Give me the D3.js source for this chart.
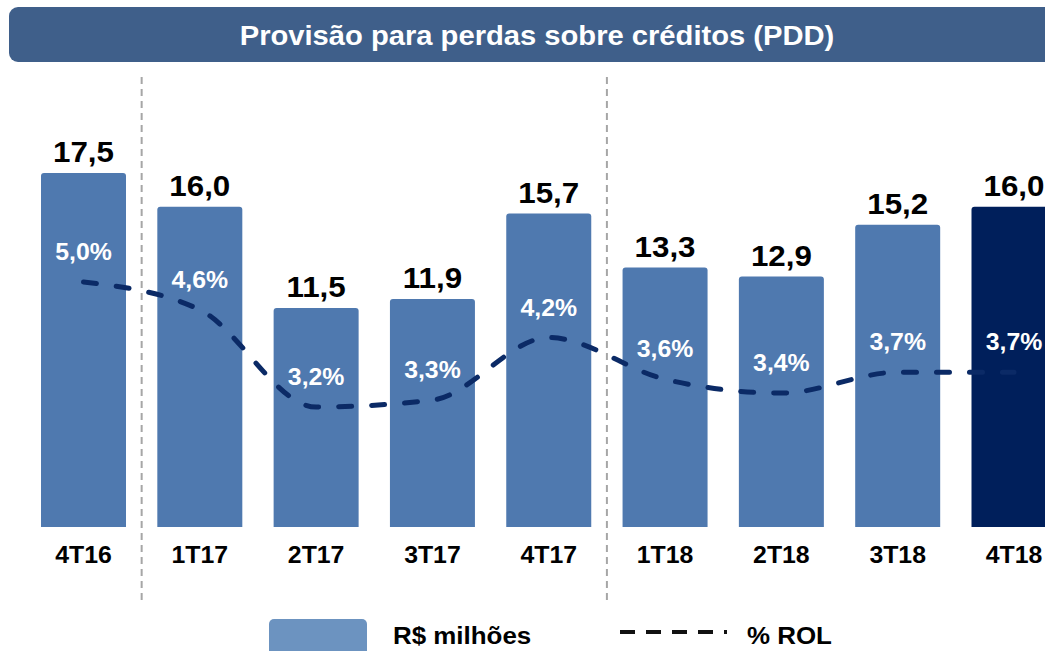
<!DOCTYPE html>
<html>
<head>
<meta charset="utf-8">
<script src="https://cdn.jsdelivr.net/npm/d3@7"></script>
<style>
  html, body { margin: 0; padding: 0; background: #fff; }
  svg { display: block; }
  text { font-family: "Liberation Sans", Arial, sans-serif; font-weight: bold; }
</style>
</head>
<body>
<svg id="chart" width="1045" height="651"></svg>
<script>
const title = "Provisão para perdas sobre créditos (PDD)";
const categories = ["4T16", "1T17", "2T17", "3T17", "4T17", "1T18", "2T18", "3T18", "4T18"];
const pddValues = [17.5, 16.0, 11.5, 11.9, 15.7, 13.3, 12.9, 15.2, 16.0];
const rolValues = [5.0, 4.6, 3.2, 3.3, 4.2, 3.6, 3.4, 3.7, 3.7];
const highlighted = ["4T18"];
const separatorsAfter = ["4T16", "4T17"];
const legendLabels = ["R$ milhões", "% ROL"];

const svg = d3.select("#chart");
const SX = 1.08; // horizontal text stretch seen in reference

const fmt = v => v.toFixed(1).replace(".", ",");

// Title bar
svg.append("rect")
  .attr("x", 9).attr("y", 7).attr("width", 1060).attr("height", 55)
  .attr("rx", 9).attr("fill", "#3F5F8A");
svg.append("text")
  .attr("transform", `translate(537,45) scale(${SX},1)`)
  .attr("text-anchor", "middle").attr("fill", "#fff")
  .attr("font-size", 27).text(title);

// Scales
const x = d3.scalePoint().domain(categories).range([83.5, 1014]);
const barW = 85;
const baseline = 527;
const yBar = d3.scaleLinear().domain([1.77, 17.5]).range([baseline, 173]);
const yLine = d3.scaleLinear().domain([3.2, 5.0]).range([407, 282]);

// Separators
const step = x.step();
separatorsAfter.forEach(c => {
  const sx = x(c) + step / 2;
  svg.append("line")
    .attr("x1", sx).attr("x2", sx).attr("y1", 77).attr("y2", 600)
    .attr("stroke", "#A6A6A6").attr("stroke-width", 2)
    .attr("stroke-dasharray", "7,5");
});

// Bars with rounded top corners
const r = 3;
const barPath = (cx, top) => {
  const l = cx - barW / 2, rr = cx + barW / 2;
  return `M${l},${baseline} L${l},${top + r} Q${l},${top} ${l + r},${top} L${rr - r},${top} Q${rr},${top} ${rr},${top + r} L${rr},${baseline} Z`;
};
const data = categories.map((c, i) => ({ c, v: pddValues[i], p: rolValues[i] }));

svg.append("g").selectAll("path").data(data).join("path")
  .attr("d", d => barPath(x(d.c), yBar(d.v)))
  .attr("fill", d => highlighted.includes(d.c) ? "#001F5B" : "#4F79AF");

// Value labels
svg.append("g").selectAll("text").data(data).join("text")
  .attr("transform", d => `translate(${x(d.c)},${yBar(d.v) - 11}) scale(${SX},1)`)
  .attr("text-anchor", "middle").attr("fill", "#000")
  .attr("font-size", 29).text(d => fmt(d.v));

// Category labels
svg.append("g").selectAll("text").data(data).join("text")
  .attr("transform", d => `translate(${x(d.c)},563) scale(${SX},1)`)
  .attr("text-anchor", "middle").attr("fill", "#000")
  .attr("font-size", 23).text(d => d.c);

// % ROL line
const line = d3.line()
  .x(d => x(d.c)).y(d => yLine(d.p))
  .curve(d3.curveMonotoneX);
svg.append("path")
  .attr("d", line(data))
  .attr("fill", "none").attr("stroke", "#0B2A66")
  .attr("stroke-width", 5).attr("stroke-linecap", "round")
  .attr("stroke-dasharray", "13,20");

// % labels
svg.append("g").selectAll("text").data(data).join("text")
  .attr("transform", d => `translate(${x(d.c)},${yLine(d.p) - 22}) scale(${SX},1)`)
  .attr("text-anchor", "middle").attr("fill", "#fff")
  .attr("font-size", 23).text(d => fmt(d.p) + "%");

// Legend
svg.append("rect")
  .attr("x", 269).attr("y", 619).attr("width", 98).attr("height", 45)
  .attr("rx", 5).attr("fill", "#6C93C0");
svg.append("text")
  .attr("transform", `translate(393,644) scale(${SX},1)`)
  .attr("fill", "#000").attr("font-size", 24).text(legendLabels[0]);
svg.append("line")
  .attr("x1", 620).attr("x2", 727).attr("y1", 632).attr("y2", 632)
  .attr("stroke", "#111").attr("stroke-width", 4)
  .attr("stroke-dasharray", "15,11");
svg.append("text")
  .attr("transform", `translate(747,644) scale(${SX},1)`)
  .attr("fill", "#000").attr("font-size", 24).text(legendLabels[1]);
</script>
</body>
</html>
